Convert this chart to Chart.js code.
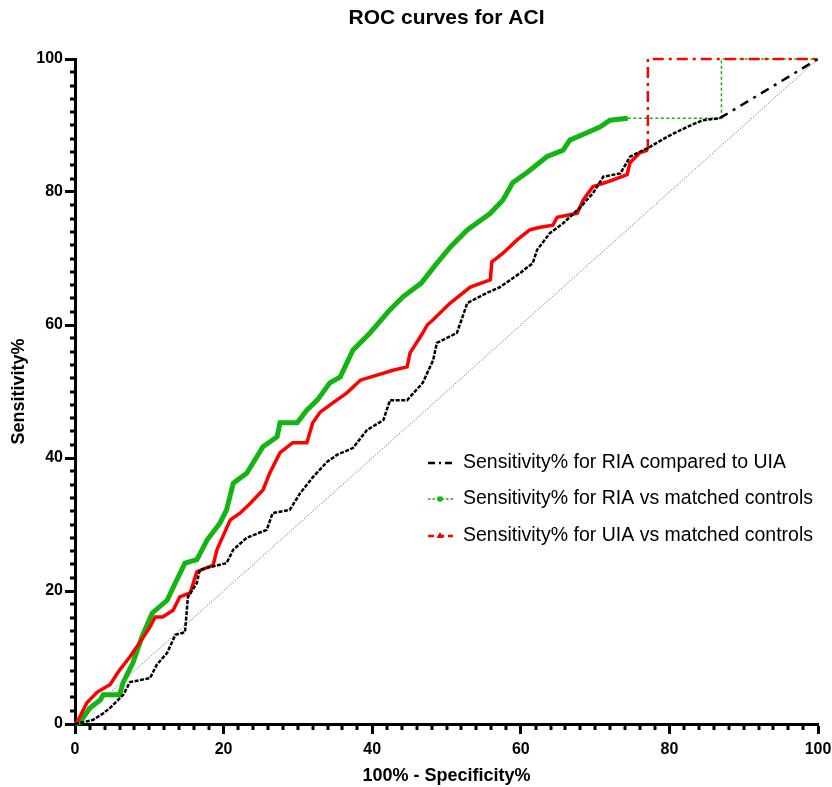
<!DOCTYPE html>
<html>
<head>
<meta charset="utf-8">
<script src="https://cdn.jsdelivr.net/npm/chart.js@4.4.0/dist/chart.umd.min.js"></script>
<style>
  html, body { margin: 0; padding: 0; background: #fff; }
</style>
</head>
<body>
<canvas id="roc" width="832" height="787"></canvas>
<script>
// ---- data ----
const seriesLabels = [
  "Sensitivity% for RIA compared to UIA",
  "Sensitivity% for RIA vs matched controls",
  "Sensitivity% for UIA vs matched controls"
];

// RIA compared to UIA (black)
const riaUiaX = [0, 2.4, 3.8, 4.7, 6.5, 7.4, 10.1, 11, 12.4, 13.5, 14.8, 15.2, 16.4, 16.8, 20.4, 21.3, 23.1, 25.8, 26.6, 28.9, 30.3, 32, 33.9, 35.3, 37.4, 39.3, 41.5, 42.4, 44.7, 46.8, 48.2, 48.7, 51.4, 52.8, 55.4, 57.2, 59.9, 61.6, 62.2, 63.9, 65.7, 68, 69.7, 71.1, 73.4, 74.7, 77.4, 79.7, 82.4, 84.5, 86.8, 100];
const riaUiaY = [0, 0.6, 1.6, 2.4, 4.4, 6.3, 6.9, 8.9, 10.7, 13.4, 13.8, 19.1, 21.2, 23.2, 24.2, 26.2, 28, 29.2, 31.7, 32.2, 34.7, 37.1, 39.4, 40.5, 41.5, 44.2, 45.7, 48.7, 48.7, 51.3, 54.7, 57.3, 58.8, 63.3, 64.8, 65.7, 67.8, 69.3, 71.3, 73.8, 75.3, 77.7, 79.8, 82.3, 82.8, 85.3, 86.8, 88.3, 89.8, 90.8, 91.1, 100];

// RIA vs matched controls (green)
const riaCtrlX = [0, 0.7, 2, 3.4, 3.8, 6, 6.5, 7.8, 9, 10.4, 12.4, 13.5, 14.8, 16.4, 17.8, 19.5, 20.4, 21.3, 23.1, 24.2, 25.3, 27.2, 27.6, 29.9, 31.2, 32.6, 34.3, 35.7, 37.4, 39.7, 42.4, 44.1, 46.6, 48.5, 50.5, 52.8, 55.9, 57.6, 58.9, 60.8, 63.5, 65.7, 66.6, 68.9, 70.7, 72, 74.4, 87, 87, 100];
const riaCtrlY = [0, 0.3, 2.4, 3.6, 4.4, 4.4, 6.3, 9.2, 13.1, 16.7, 18.6, 21.2, 24.2, 24.7, 27.7, 30.2, 32.2, 36.2, 37.7, 39.7, 41.7, 43.2, 45.3, 45.3, 47.2, 48.7, 51.3, 52.2, 56.2, 58.8, 62.3, 64.2, 66.3, 69, 71.7, 74.3, 76.8, 78.8, 81.4, 82.9, 85.3, 86.3, 87.8, 88.9, 89.8, 90.8, 91.1, 91.1, 100, 100];

// UIA vs matched controls (red)
const uiaCtrlX = [0, 0.3, 1.6, 3, 4.7, 6, 7.4, 8.7, 10.1, 10.8, 11.8, 13.2, 14.1, 15.5, 16.4, 18.6, 19.1, 20.9, 22.2, 23.6, 25.3, 26.2, 27.6, 29.3, 31.2, 32, 33, 34.7, 36.6, 38.4, 42.8, 44.7, 45.1, 46.8, 47.4, 48.2, 50.5, 53.2, 55.9, 56.1, 57.6, 59.5, 61.2, 62.6, 64.3, 64.9, 67.6, 68.4, 69.7, 71.6, 74.3, 74.7, 76, 77.1, 77.1, 100];
const uiaCtrlY = [0, 0.3, 3.2, 4.8, 5.9, 8.1, 10.1, 12.2, 14.6, 16.1, 16.1, 17.1, 19.1, 19.7, 22.9, 23.9, 26.2, 30.7, 31.7, 33.2, 35.2, 37.7, 40.8, 42.3, 42.3, 45.3, 46.9, 48.3, 49.8, 51.7, 53.2, 53.7, 55.8, 58.8, 60, 60.8, 63.3, 65.7, 66.8, 69.5, 70.8, 72.8, 74.3, 74.7, 75, 76.2, 76.8, 78.8, 80.8, 81.5, 82.6, 84.4, 85.9, 86.3, 100, 100];

// chance line
const diagX = [0, 100];
const diagY = [0, 100];

// where each curve stops being dense and turns into the sparse tail
const riaUiaTail = 86.8;
const riaCtrlTail = 74.4;
const uiaCtrlTail = 77.1;

const axisTicks = [0, 20, 40, 60, 80, 100];

const pts = (xs, ys) => xs.map((x, i) => ({ x: x, y: ys[i] }));

const GREEN = "#12b512";
const RED = "#ff0000";
const FONT = "'Liberation Sans', Arial, sans-serif";

// tail style switch per segment
function tailStyle(from, dense, tail) {
  return ctx => (ctx.p0.parsed.x >= from - 0.01 ? tail : dense);
}

// title drawn over the plot centre
const titlePlugin = {
  id: "rocTitle",
  afterDraw(chart) {
    const { ctx, chartArea } = chart;
    ctx.save();
    ctx.font = "bold 21px " + FONT;
    ctx.fillStyle = "#000";
    ctx.textAlign = "center";
    ctx.textBaseline = "middle";
    ctx.fillText("ROC curves for ACI", (chartArea.left + chartArea.right) / 2, 18);
    ctx.restore();
  }
};

// short minor ticks every 2 units (major ones come from the grid)
const minorTicks = {
  id: "minorTicks",
  afterDraw(chart) {
    const { ctx, scales } = chart;
    const x = scales.x, y = scales.y;
    ctx.save();
    ctx.strokeStyle = "#000";
    ctx.lineWidth = 3;
    ctx.beginPath();
    for (let v = 0; v <= 100; v += 2) {
      if (axisTicks.includes(v)) continue;
      const px = Math.round(x.getPixelForValue(v));
      ctx.moveTo(px, x.top);
      ctx.lineTo(px, x.top + 6);
      const py = Math.round(y.getPixelForValue(v));
      ctx.moveTo(y.right, py);
      ctx.lineTo(y.right - 5, py);
    }
    ctx.stroke();
    ctx.restore();
  }
};

// legend placed inside the plot, lower right
const insideLegend = {
  id: "insideLegend",
  afterDraw(chart) {
    const { ctx } = chart;
    const rows = [463, 499, 536];
    const x0 = 428, x1 = 453, tx = 463;
    ctx.save();
    ctx.font = "19.5px " + FONT;
    ctx.textBaseline = "middle";
    ctx.fillStyle = "#000";
    rows.forEach((ry, i) => ctx.fillText(seriesLabels[i], tx, ry));

    // black dash-dot
    ctx.strokeStyle = "#000";
    ctx.lineWidth = 2.5;
    ctx.setLineDash([7, 4, 2, 4]);
    ctx.beginPath(); ctx.moveTo(x0, rows[0]); ctx.lineTo(x1, rows[0]); ctx.stroke();

    // green dotted with square
    ctx.strokeStyle = GREEN;
    ctx.lineWidth = 1.5;
    ctx.setLineDash([2.5, 2]);
    ctx.beginPath(); ctx.moveTo(x0, rows[1]); ctx.lineTo(x1, rows[1]); ctx.stroke();
    ctx.fillStyle = GREEN;
    ctx.fillRect(437.5, rows[1] - 2.5, 5, 5);

    // red dashed with triangle
    ctx.strokeStyle = RED;
    ctx.lineWidth = 2.5;
    ctx.setLineDash([6, 4]);
    ctx.beginPath(); ctx.moveTo(x0, rows[2]); ctx.lineTo(x1, rows[2]); ctx.stroke();
    ctx.setLineDash([]);
    ctx.fillStyle = RED;
    ctx.beginPath();
    ctx.moveTo(440, rows[2] - 4); ctx.lineTo(443.5, rows[2] + 2); ctx.lineTo(436.5, rows[2] + 2);
    ctx.closePath(); ctx.fill();
    ctx.restore();
  }
};

new Chart(document.getElementById("roc"), {
  type: "line",
  data: {
    datasets: [
      {
        label: seriesLabels[0],
        data: pts(riaUiaX, riaUiaY),
        borderColor: "#000",
        borderWidth: 2.5,
        borderDash: [4, 1.5],
        pointRadius: 0,
        clip: false,
        segment: {
          borderDash: tailStyle(riaUiaTail, [4, 1.5], [9, 6, 3, 6]),
          borderWidth: tailStyle(riaUiaTail, 2.5, 2.5)
        }
      },
      {
        label: seriesLabels[2],
        data: pts(uiaCtrlX, uiaCtrlY),
        borderColor: RED,
        borderWidth: 3.5,
        pointRadius: 0,
        clip: false,
        segment: {
          borderDash: tailStyle(uiaCtrlTail, [], [11, 5, 3, 5]),
          borderWidth: tailStyle(uiaCtrlTail, 3.5, 2.5)
        }
      },
      {
        label: seriesLabels[1],
        data: pts(riaCtrlX, riaCtrlY),
        borderColor: GREEN,
        borderWidth: 5,
        pointRadius: 0,
        clip: false,
        segment: {
          borderDash: tailStyle(riaCtrlTail, [], [3, 2.5]),
          borderWidth: tailStyle(riaCtrlTail, 5, 1.5)
        }
      },
      {
        label: "chance",
        data: pts(diagX, diagY),
        borderColor: "#666",
        borderWidth: 1,
        borderDash: [1, 1.5],
        pointRadius: 0
      }
    ]
  },
  options: {
    responsive: false,
    animation: false,
    layout: { padding: { top: 59, right: 14, bottom: 0, left: 0 } },
    plugins: {
      legend: { display: false },
      title: { display: false },
      tooltip: { enabled: false }
    },
    scales: {
      x: {
        type: "linear",
        min: 0,
        max: 100,
        afterFit: s => { s.height = 63; s.paddingLeft = 0; s.paddingRight = 0; },
        afterBuildTicks: s => { s.ticks = axisTicks.map(v => ({ value: v })); },
        ticks: {
          color: "#000",
          font: { family: FONT, size: 16, weight: "bold" },
          padding: 6,
          maxRotation: 0
        },
        grid: {
          drawOnChartArea: false,
          tickLength: 10,
          tickWidth: 3,
          tickColor: "#000"
        },
        border: { color: "#000", width: 3 },
        title: {
          display: true,
          text: "100% - Specificity%",
          color: "#000",
          font: { family: FONT, size: 18, weight: "bold" },
          padding: { top: 0, bottom: 0 }
        }
      },
      y: {
        type: "linear",
        min: 0,
        max: 100,
        afterFit: s => { s.width = 75; s.paddingTop = 0; s.paddingBottom = 0; },
        afterBuildTicks: s => { s.ticks = axisTicks.map(v => ({ value: v })); },
        ticks: {
          color: "#000",
          font: { family: FONT, size: 16, weight: "bold" },
          padding: 2
        },
        grid: {
          drawOnChartArea: false,
          tickLength: 10,
          tickWidth: 3,
          tickColor: "#000"
        },
        border: { color: "#000", width: 3 },
        title: {
          display: true,
          text: "Sensitivity%",
          color: "#000",
          font: { family: FONT, size: 18, weight: "bold" },
          padding: { top: 8, bottom: 0 }
        }
      }
    }
  },
  plugins: [titlePlugin, minorTicks, insideLegend]
});
</script>
</body>
</html>
